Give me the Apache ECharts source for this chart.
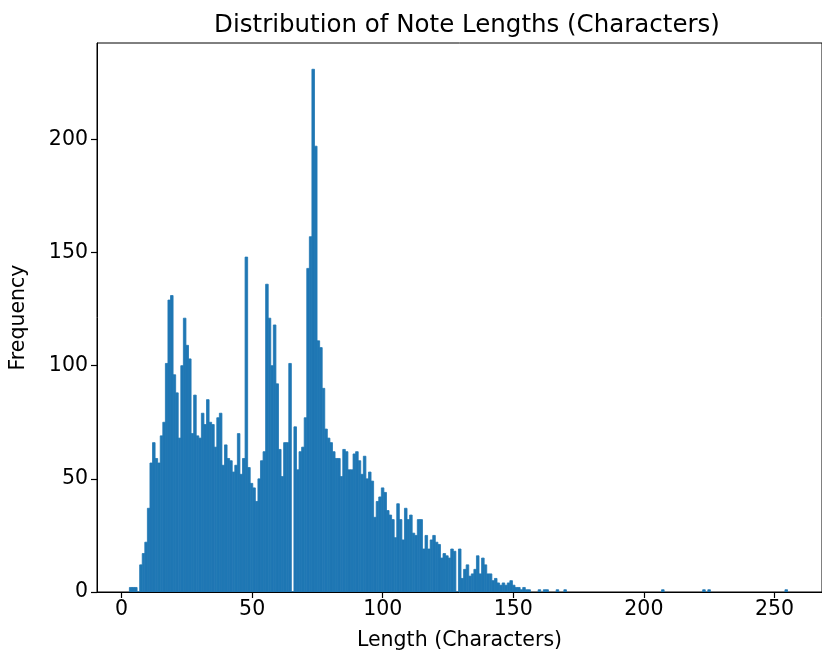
<!DOCTYPE html>
<html>
<head>
<meta charset="utf-8">
<title>Distribution of Note Lengths</title>
<script src="https://cdn.jsdelivr.net/npm/echarts@6/dist/echarts.min.js"></script>
<style>
  html, body { margin: 0; padding: 0; background: #fff; }
  #chart { width: 822px; height: 657px; }
</style>
</head>
<body>
<div id="chart"></div>
<script>
// 256 equal bins between the shortest (3) and the longest (255) note
var binStart = 3;
var binEnd = 255;
var binCount = 256;
// counts of bins 0..156
var mainCounts = [
  2, 2, 2, 0, 12, 17, 22, 37, 57, 66,
  59, 57, 69, 75, 101, 129, 131, 96, 88, 68,
  100, 121, 109, 103, 70, 87, 69, 68, 79, 74,
  85, 75, 74, 64, 77, 79, 56, 65, 59, 58,
  53, 56, 70, 52, 59, 148, 55, 48, 46, 40,
  50, 58, 62, 136, 121, 100, 118, 92, 63, 51,
  66, 66, 101, 0, 73, 54, 62, 64, 77, 143,
  157, 231, 197, 111, 108, 90, 72, 68, 66, 62,
  59, 59, 51, 63, 62, 54, 54, 61, 62, 58,
  52, 60, 50, 53, 49, 33, 40, 42, 46, 44,
  36, 34, 32, 24, 39, 32, 23, 37, 32, 34,
  26, 25, 32, 32, 19, 25, 19, 23, 25, 22,
  21, 15, 17, 16, 15, 19, 18, 0, 19, 6,
  10, 12, 7, 8, 10, 16, 8, 15, 12, 8,
  8, 5, 6, 4, 3, 4, 3, 4, 5, 3,
  2, 2, 1, 2, 1, 1
];
// the long tail: bins holding a single note
var tailBins = [159, 161, 162, 166, 169, 207, 223, 225, 255];
var tailCounts = [1, 1, 1, 1, 1, 1, 1, 1, 1];

var xTicks = [0, 50, 100, 150, 200, 250];
var yTicks = [0, 50, 100, 150, 200];

// build [left, right, count] for every bin
var binWidth = (binEnd - binStart) / binCount;
var bins = [];
function addBin(index, count) {
  var left = binStart + index * binWidth;
  bins.push([left, left + binWidth, count]);
}
for (var i = 0; i < mainCounts.length; i++) {
  addBin(i, mainCounts[i]);
}
for (var j = 0; j < tailBins.length; j++) {
  addBin(tailBins[j], tailCounts[j]);
}

var font = "DejaVu Sans";
var blue = "#1f77b4";
var chart = echarts.init(document.getElementById("chart"));

var option = {
  animation: false,
  title: {
    text: "Distribution of Note Lengths (Characters)",
    left: 462,
    textAlign: "center",
    top: 8,
    textStyle: { fontFamily: font, fontSize: 24.5, fontWeight: "normal", color: "#000" },
  },
  grid: {
    left: 95,
    right: -10,
    top: 43,
    bottom: 65,
    show: true,
    borderColor: "#000",
    borderWidth: 1,
  },
  xAxis: {
    type: "value",
    min: -9.4,
    max: 268.2,
    name: "Length (Characters)",
    nameLocation: "middle",
    nameGap: 38,
    nameTextStyle: { fontFamily: font, fontSize: 20.5, color: "#000" },
    axisLine: { show: true, onZero: false, lineStyle: { color: "#000", width: 1 } },
    axisTick: { show: true, length: 6, customValues: xTicks, lineStyle: { color: "#000", width: 1.2 } },
    axisLabel: {
      customValues: xTicks,
      margin: 7,
      fontFamily: font,
      fontSize: 20.5,
      color: "#000",
    },
    splitLine: { show: false },
  },
  yAxis: {
    type: "value",
    min: 0,
    max: 242.6,
    name: "Frequency",
    nameLocation: "middle",
    nameGap: 68,
    nameTextStyle: { fontFamily: font, fontSize: 20.5, color: "#000" },
    axisLine: { show: true, onZero: false, lineStyle: { color: "#000", width: 1 } },
    axisTick: { show: true, length: 6, customValues: yTicks, lineStyle: { color: "#000", width: 1.2 } },
    axisLabel: {
      customValues: yTicks,
      margin: 9,
      fontFamily: font,
      fontSize: 20.5,
      color: "#000",
    },
    splitLine: { show: false },
  },
  series: [
    {
      type: "custom",
      clip: true,
      encode: { x: [0, 1], y: 2 },
      data: bins,
      renderItem: function (params, api) {
        var top = api.coord([api.value(0), api.value(2)]);
        var bottom = api.coord([api.value(1), 0]);
        return {
          type: "rect",
          shape: {
            x: top[0],
            y: top[1],
            width: bottom[0] - top[0],
            height: bottom[1] - top[1],
          },
          // stroke of the same colour hides seams between bars
          style: { fill: blue, stroke: blue, lineWidth: 0.8 },
        };
      },
    },
  ],
};

chart.setOption(option);
</script>
</body>
</html>
